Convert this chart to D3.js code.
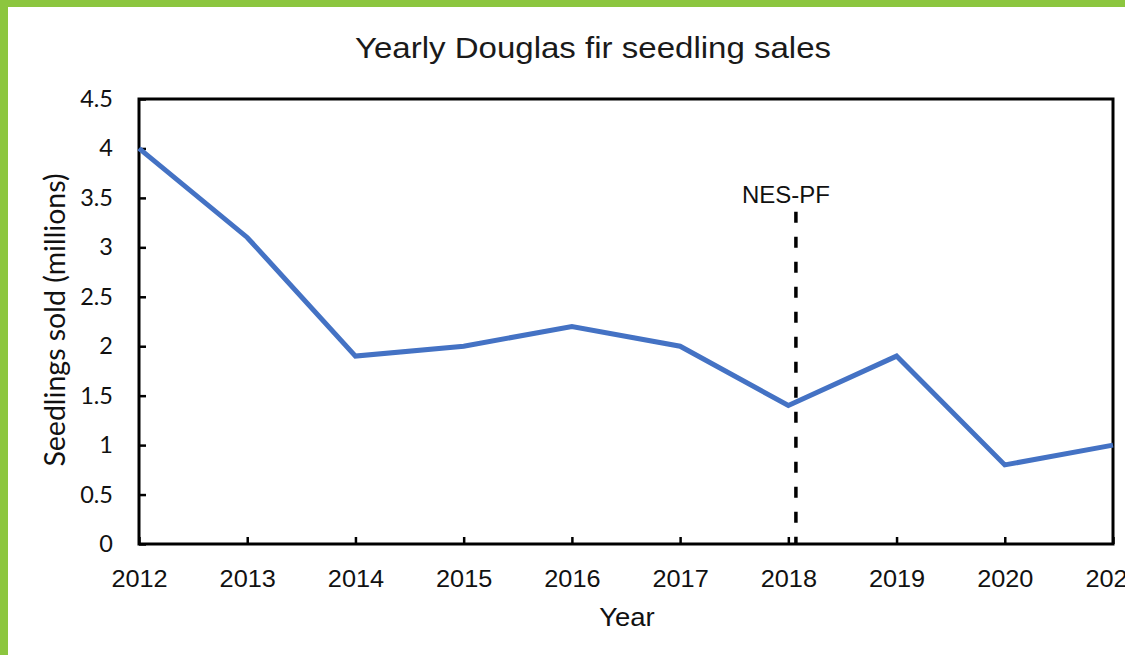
<!DOCTYPE html>
<html>
<head>
<meta charset="utf-8">
<script src="https://cdn.jsdelivr.net/npm/d3@7"></script>
<style>
  html, body { margin: 0; padding: 0; background: #fff; }
  svg { display: block; }
</style>
</head>
<body>
<svg id="chart" width="1125" height="655"></svg>
<script>
// Yearly sales, millions of seedlings
const years = [2012, 2013, 2014, 2015, 2016, 2017, 2018, 2019, 2020, 2021];
const sales = [4.0, 3.1, 1.9, 2.0, 2.2, 2.0, 1.4, 1.9, 0.8, 1.0];
const yTicks = [0, 0.5, 1, 1.5, 2, 2.5, 3, 3.5, 4, 4.5];
const xTickLabels = ["2012", "2013", "2014", "2015", "2016", "2017", "2018", "2019", "2020", "2021"];
// Program marker (year position, top value)
const markerYear = [2018.07];
const markerTop = [3.36];
const markerLabel = ["NES-PF"];

const svg = d3.select("#chart");
const W = 1125, H = 655;
const plot = { left: 139, top: 99, right: 1113, bottom: 544 };
const sx = 1.1; // horizontal widening of the sans-serif labels

// green frame around the figure
svg.append("rect").attr("x", 0).attr("y", 0).attr("width", W).attr("height", 7).attr("fill", "#8cc63f");
svg.append("rect").attr("x", 0).attr("y", 0).attr("width", 8).attr("height", H).attr("fill", "#8cc63f");

const x = d3.scaleLinear().domain([2012, 2021]).range([plot.left, plot.right]);
const y = d3.scaleLinear().domain([0, 4.5]).range([plot.bottom, plot.top]);

// title
svg.append("text")
  .attr("transform", `translate(593,58) scale(1.12,1)`)
  .attr("text-anchor", "middle")
  .attr("font-family", "Liberation Sans, Arial, sans-serif")
  .attr("font-size", 29.5)
  .attr("fill", "#1a1a1a")
  .text("Yearly Douglas fir seedling sales");

// y axis (ticks inside)
const yAxis = d3.axisLeft(y).tickValues(yTicks).tickSize(-7).tickPadding(26)
  .tickFormat(d => String(d));
const gy = svg.append("g").attr("transform", `translate(${plot.left},0)`).call(yAxis);
gy.select(".domain").remove();
gy.selectAll(".tick line").attr("stroke", "#000").attr("stroke-width", 2.5);
gy.selectAll(".tick text")
  .attr("font-family", "Lato, 'Open Sans', sans-serif")
  .attr("font-size", 23.5)
  .attr("fill", "#111");

// x axis (ticks inside)
const xAxis = d3.axisBottom(x).tickValues(years).tickSize(-7).tickPadding(27)
  .tickFormat((d, i) => xTickLabels[i]);
const gx = svg.append("g").attr("transform", `translate(0,${plot.bottom})`).call(xAxis);
gx.select(".domain").remove();
gx.selectAll(".tick line").attr("stroke", "#000").attr("stroke-width", 2.5);
gx.selectAll(".tick text")
  .attr("font-family", "Liberation Sans, Arial, sans-serif")
  .attr("font-size", 23)
  .attr("transform", `scale(${sx},1)`)
  .attr("fill", "#111");

// plot frame
svg.append("rect")
  .attr("x", plot.left).attr("y", plot.top)
  .attr("width", plot.right - plot.left).attr("height", plot.bottom - plot.top)
  .attr("fill", "none").attr("stroke", "#000").attr("stroke-width", 3);

// sales line
const line = d3.line().x((d, i) => x(years[i])).y(d => y(d));
svg.append("path")
  .datum(sales)
  .attr("d", line)
  .attr("fill", "none")
  .attr("stroke", "#4472c4")
  .attr("stroke-width", 5)
  .attr("stroke-linejoin", "miter");

// program marker line
svg.append("line")
  .attr("x1", x(markerYear[0])).attr("x2", x(markerYear[0]))
  .attr("y1", y(markerTop[0])).attr("y2", y(0))
  .attr("stroke", "#000").attr("stroke-width", 3.5)
  .attr("stroke-dasharray", "11,14");
svg.append("text")
  .attr("transform", `translate(${x(markerYear[0]) - 10},203)`)
  .attr("text-anchor", "middle")
  .attr("font-family", "Liberation Sans, Arial, sans-serif")
  .attr("font-size", 24)
  .attr("fill", "#111")
  .text(markerLabel[0]);

// axis titles
svg.append("text")
  .attr("transform", `translate(627,626) scale(${sx},1)`)
  .attr("text-anchor", "middle")
  .attr("font-family", "Liberation Sans, Arial, sans-serif")
  .attr("font-size", 25)
  .attr("fill", "#111")
  .text("Year");
svg.append("text")
  .attr("transform", "translate(65,320) rotate(-90)")
  .attr("text-anchor", "middle")
  .attr("font-family", "Lato, 'Open Sans', sans-serif")
  .attr("font-size", 28.5)
  .attr("fill", "#111")
  .text("Seedlings sold (millions)");
</script>
</body>
</html>
